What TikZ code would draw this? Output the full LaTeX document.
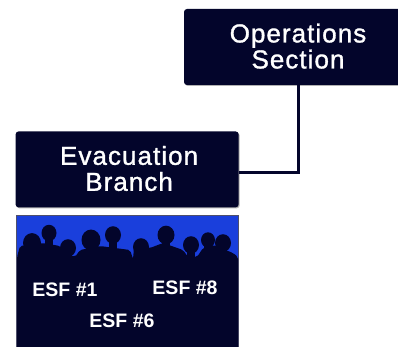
\documentclass[tikz,border=0pt]{standalone}
\usepackage{fontspec}
\setmainfont{Liberation Sans}
\usetikzlibrary{positioning,shadows}
\definecolor{navy}{HTML}{03052B}
\definecolor{crowdblue}{HTML}{1A3FDC}
\newcommand\titleline[2][0pt]{\hspace*{#1}\raisebox{2pt}{#2}}

\begin{document}
\begin{tikzpicture}
            [
            x=1pt, y=-1pt,
            title/.style={rectangle, rounded corners=3pt, fill=navy, text=white,
                minimum height=76pt, inner sep=0pt, align=center,
                font=\fontsize{26}{26}\selectfont\addfontfeature{LetterSpace=4,FakeBold=1.2},
                drop shadow={shadow xshift=1pt, shadow yshift=-1pt, fill=black, opacity=0.3}},
            esf/.style={text=white, inner sep=0pt, font=\fontsize{19.5}{20}\selectfont\bfseries},
            head/.style={fill=navy}
            ]
            \useasboundingbox (0,0) rectangle (398,347);
            \clip (0,0) rectangle (398,347);

            \node (ops) at (298,47) [title, minimum width=228pt] {\titleline{Operations}\\\titleline{Section}};
            \node (evac) [below left=46pt and -55pt of ops.south west, title, minimum width=223pt]
                {\titleline[4pt]{Evacuation}\\\titleline[4pt]{Branch}};
            \node (crowd) [below=7.5pt of evac, fill=crowdblue, draw=navy!70!white, line width=0.6pt,
                minimum width=222pt, minimum height=140pt, inner sep=0pt] {};

            % Silhouettes
            \fill [navy, rounded corners=2pt] (17,257) -- (20,246) -- (43,243) -- (60,246) -- (68,254)
                -- (75,257) -- (80,250) -- (100,246) -- (130,250) -- (133,259) -- (134,248) -- (150,248)
                -- (163,243) -- (183,250) -- (188,257) -- (197,257) -- (203,248) -- (213,245)
                -- (233,253) -- (238,257) -- (238,355) -- (17,355) -- cycle;
            \foreach \x/\y/\r in {32/243/9, 49/233/7.5, 68/248/8, 91/240/9.5, 113/235/8,
                141/247/8, 166/235/8.5, 191/245/8, 208/240/7, 223/243/8}{
                \fill [head] (\x,\y) ellipse ({\r pt} and {1.1*\r pt});
                \fill [head] (\x-4,\y) rectangle (\x+4,\y+16);
            }

            \node (esfa) at (65,290) [esf] {ESF \#1};
            \node (esfb) at (185,288) [esf] {ESF \#8};
            \node (esfc) at (122,321) [esf] {ESF \#6};

            \draw [navy, line width=3pt] (ops.south) |- ([yshift=-3pt]evac.east);

        \end{tikzpicture}
\end{document}
